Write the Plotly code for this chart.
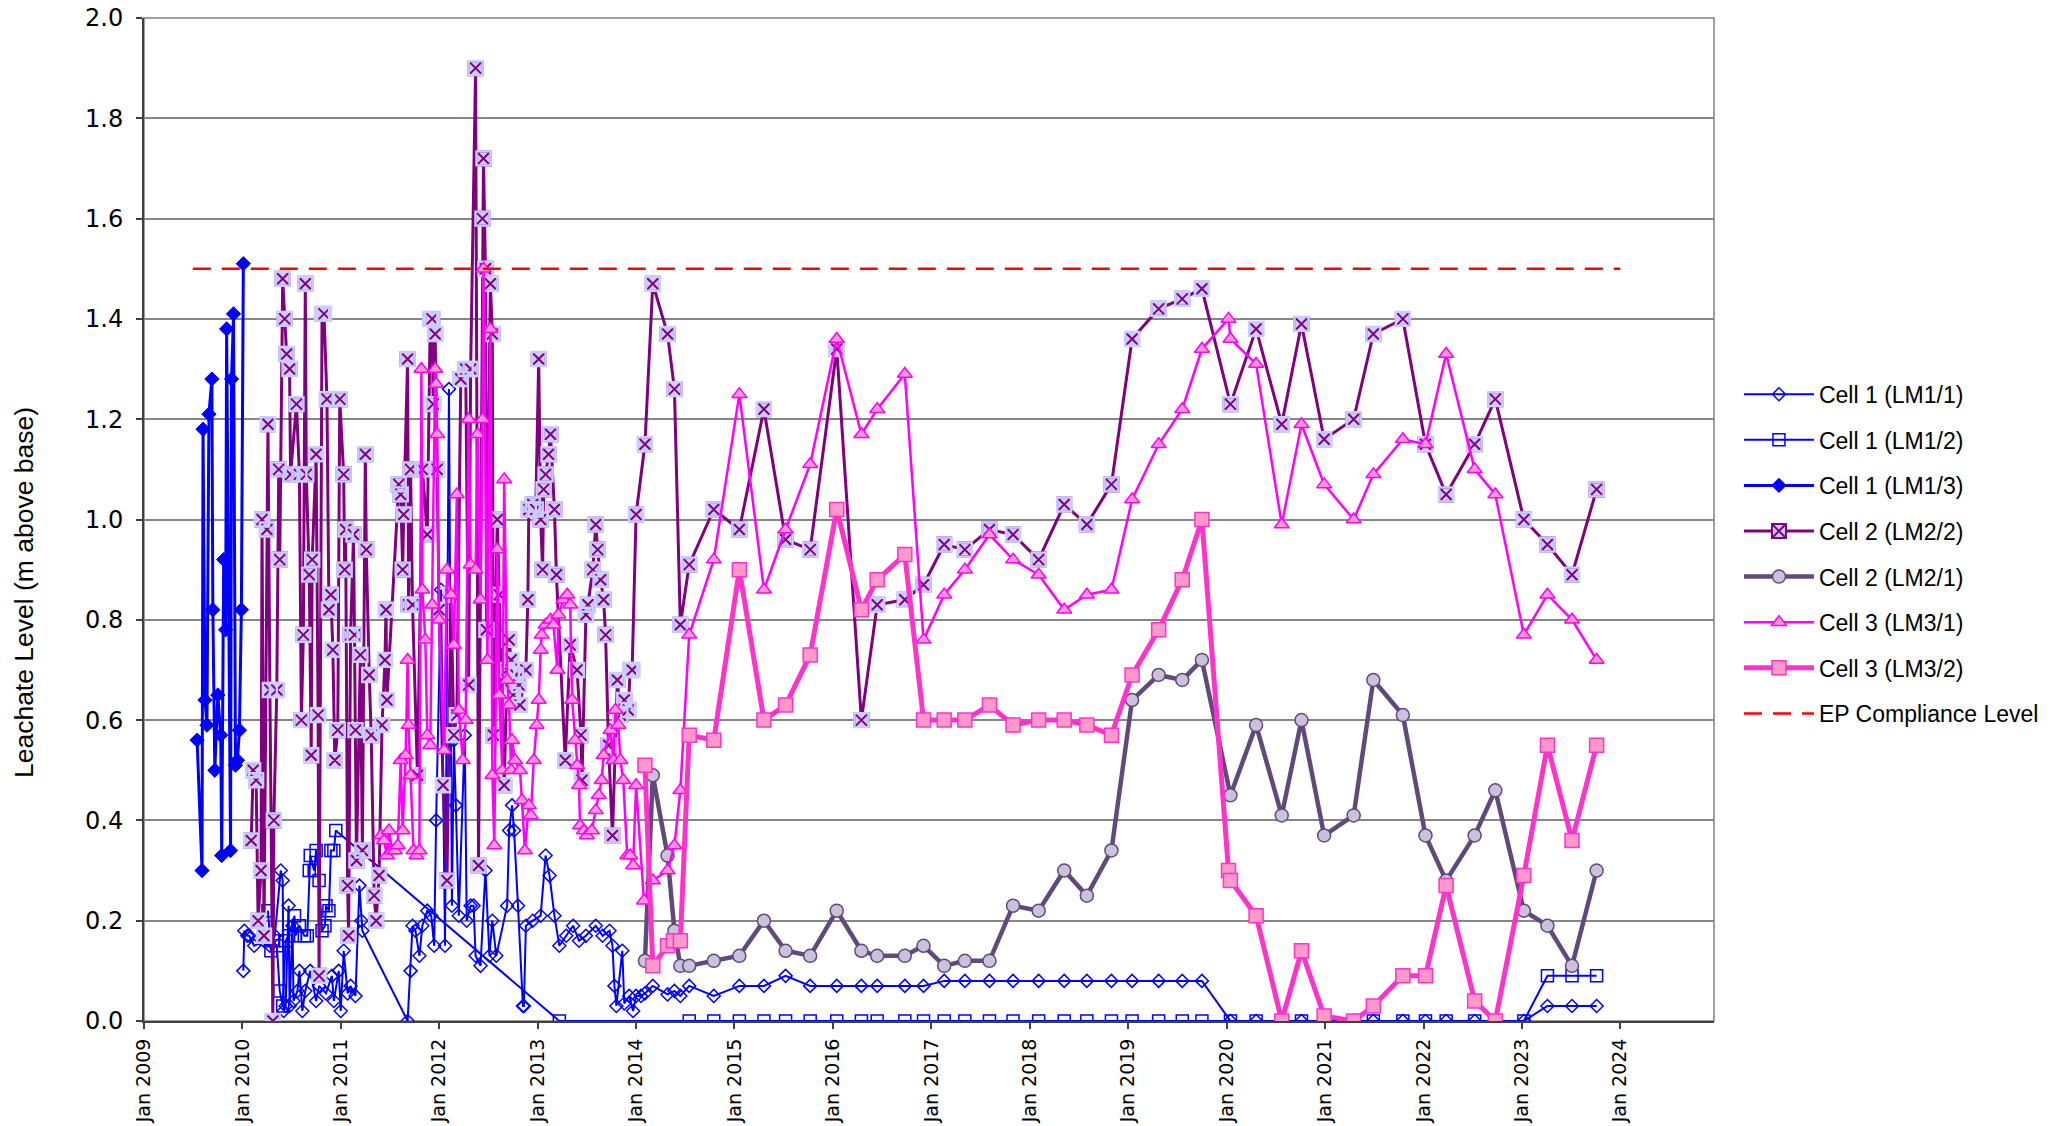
import datetime as dt
import plotly.graph_objects as go

# ---------------- data (decimal years -> dates) ----------------
lm11_t = [2010.01, 2010.02, 2010.05, 2010.07, 2010.12, 2010.22, 2010.28, 2010.33, 2010.39, 2010.41,
          2010.42, 2010.44, 2010.47, 2010.48, 2010.51, 2010.52, 2010.56, 2010.58, 2010.61, 2010.64,
          2010.69, 2010.75, 2010.78, 2010.85, 2010.91, 2010.93, 2010.98, 2011.00, 2011.03, 2011.07,
          2011.10, 2011.15, 2011.19, 2011.21, 2011.22, 2011.68, 2011.71, 2011.73, 2011.76, 2011.80,
          2011.83, 2011.88, 2011.92, 2011.95, 2011.97, 2012.02, 2012.06, 2012.10, 2012.13, 2012.15,
          2012.17, 2012.20, 2012.26, 2012.28, 2012.32, 2012.35, 2012.37, 2012.42, 2012.47, 2012.51,
          2012.54, 2012.58, 2012.69, 2012.71, 2012.74, 2012.76, 2012.80, 2012.85, 2012.86, 2012.88,
          2012.95, 2013.03, 2013.08, 2013.12, 2013.17, 2013.22, 2013.29, 2013.36, 2013.42, 2013.49,
          2013.59, 2013.66, 2013.73, 2013.76, 2013.78, 2013.80, 2013.86, 2013.88, 2013.93, 2013.97,
          2014.00, 2014.05, 2014.09, 2014.17, 2014.32, 2014.39, 2014.45,
          2014.54, 2014.79, 2015.05, 2015.30, 2015.52, 2015.77, 2016.04, 2016.29, 2016.45, 2016.73,
          2016.92, 2017.13, 2017.34, 2017.59, 2017.83, 2018.09, 2018.35, 2018.58, 2018.83, 2019.04,
          2019.31, 2019.55, 2019.75, 2020.04, 2020.30, 2020.56, 2020.76, 2020.99, 2021.29, 2021.49,
          2021.79, 2022.02, 2022.23, 2022.52, 2022.73, 2023.02, 2023.26, 2023.51, 2023.76]
lm11_v = [0.10, 0.18, 0.17, 0.17, 0.15, 0.16, 0.15, 0.17, 0.30, 0.28,
          0.02, 0.03, 0.23, 0.03, 0.19, 0.04, 0.06, 0.10, 0.02, 0.06,
          0.10, 0.04, 0.07, 0.055, 0.09, 0.04, 0.10, 0.02, 0.14, 0.055,
          0.07, 0.05, 0.27, 0.20, 0.18, 0.00, 0.10, 0.19, 0.18, 0.13,
          0.19, 0.22, 0.21, 0.15, 0.40, 0.86, 0.15, 1.26, 0.23, 0.56,
          0.43, 0.21, 0.57, 0.20, 0.23, 0.23, 0.13, 0.11, 0.30, 0.13,
          0.20, 0.13, 0.23, 0.38, 0.43, 0.38, 0.23, 0.03, 0.03, 0.19,
          0.20, 0.21, 0.33, 0.29, 0.21, 0.15, 0.17, 0.19, 0.16, 0.17,
          0.19, 0.17, 0.18, 0.15, 0.07, 0.03, 0.14, 0.035, 0.05, 0.02,
          0.05, 0.05, 0.055, 0.07, 0.053, 0.06, 0.05,
          0.07, 0.05, 0.07, 0.07, 0.09, 0.07, 0.07, 0.07, 0.07, 0.07,
          0.07, 0.08, 0.08, 0.08, 0.08, 0.08, 0.08, 0.08, 0.08, 0.08,
          0.08, 0.08, 0.08, 0.00, 0.00, 0.00, 0.00, 0.00, 0.00, 0.00,
          0.00, 0.00, 0.00, 0.00, 0.00, 0.00, 0.03, 0.03, 0.03]

lm12_t = [2010.26, 2010.29, 2010.31, 2010.35, 2010.38, 2010.41, 2010.44, 2010.47, 2010.53, 2010.54,
          2010.58, 2010.63, 2010.66, 2010.68, 2010.69, 2010.73, 2010.75, 2010.78, 2010.81, 2010.84,
          2010.85, 2010.88, 2010.90, 2010.93, 2010.95, 2013.22,
          2014.54, 2014.79, 2015.05, 2015.30, 2015.52, 2015.77, 2016.04, 2016.29, 2016.45, 2016.73,
          2016.92, 2017.13, 2017.34, 2017.59, 2017.83, 2018.09, 2018.35, 2018.58, 2018.83, 2019.04,
          2019.31, 2019.55, 2019.75, 2020.04, 2020.30, 2020.56, 2020.76, 2020.99, 2021.29, 2021.49,
          2021.79, 2022.02, 2022.23, 2022.52, 2022.73, 2023.02, 2023.26, 2023.51, 2023.76]
lm12_v = [0.22, 0.14, 0.16, 0.15, 0.06, 0.03, 0.16, 0.17, 0.21, 0.17,
          0.19, 0.17, 0.17, 0.30, 0.33, 0.30, 0.34, 0.28, 0.18, 0.19,
          0.23, 0.22, 0.34, 0.34, 0.38, 0.00,
          0.00, 0.00, 0.00, 0.00, 0.00, 0.00, 0.00, 0.00, 0.00, 0.00,
          0.00, 0.00, 0.00, 0.00, 0.00, 0.00, 0.00, 0.00, 0.00, 0.00,
          0.00, 0.00, 0.00, 0.00, 0.00, 0.00, 0.00, 0.00, 0.00, 0.00,
          0.00, 0.00, 0.00, 0.00, 0.00, 0.00, 0.09, 0.09, 0.09]

lm13_t = [2009.54, 2009.59, 2009.60, 2009.62, 2009.64, 2009.66, 2009.69, 2009.70, 2009.72, 2009.75,
          2009.78, 2009.79, 2009.81, 2009.83, 2009.84, 2009.88, 2009.89, 2009.91, 2009.93, 2009.95,
          2009.97, 2009.99, 2010.01]
lm13_v = [0.56, 0.30, 1.18, 0.64, 0.59, 1.21, 1.28, 0.82, 0.50, 0.65,
          0.57, 0.33, 0.92, 0.78, 1.38, 0.34, 1.28, 1.41, 0.51, 0.52,
          0.58, 0.82, 1.51]

lm22_t = [2010.09, 2010.11, 2010.14, 2010.16, 2010.19, 2010.20, 2010.22, 2010.25, 2010.26, 2010.28,
          2010.31, 2010.32, 2010.35, 2010.37, 2010.38, 2010.41, 2010.43, 2010.45, 2010.48, 2010.49,
          2010.55, 2010.58, 2010.60, 2010.62, 2010.64, 2010.65, 2010.68, 2010.70, 2010.71, 2010.75,
          2010.77, 2010.78, 2010.81, 2010.83, 2010.86, 2010.88, 2010.90, 2010.92, 2010.94, 2010.97,
          2010.99, 2011.03, 2011.04, 2011.05, 2011.07, 2011.08, 2011.10, 2011.13, 2011.14, 2011.15,
          2011.16, 2011.20, 2011.22, 2011.25, 2011.26, 2011.29, 2011.31, 2011.34, 2011.36, 2011.39,
          2011.42, 2011.45, 2011.46, 2011.47, 2011.59, 2011.61, 2011.63, 2011.64, 2011.68, 2011.69,
          2011.71, 2011.73, 2011.78, 2011.83, 2011.88, 2011.91, 2011.93, 2011.94, 2011.96, 2011.98,
          2012.00, 2012.04, 2012.08, 2012.12, 2012.15, 2012.18, 2012.22, 2012.27, 2012.30, 2012.32,
          2012.37, 2012.40, 2012.44, 2012.45, 2012.47, 2012.48, 2012.52, 2012.54, 2012.55, 2012.59,
          2012.61, 2012.66, 2012.69, 2012.71, 2012.73, 2012.75, 2012.78, 2012.81, 2012.82, 2012.88,
          2012.90, 2012.91, 2012.95, 2012.98, 2013.01, 2013.03, 2013.05, 2013.06, 2013.08, 2013.11,
          2013.13, 2013.17, 2013.19, 2013.28, 2013.33, 2013.40, 2013.44, 2013.45, 2013.49, 2013.51,
          2013.56, 2013.59, 2013.61, 2013.64, 2013.67, 2013.69, 2013.72, 2013.76, 2013.81, 2013.84,
          2013.88, 2013.92, 2013.94, 2013.96, 2014.00, 2014.09, 2014.17, 2014.32, 2014.39, 2014.45,
          2014.54, 2014.79, 2015.05, 2015.30, 2015.52, 2015.77, 2016.04, 2016.29, 2016.45, 2016.73,
          2016.92, 2017.13, 2017.34, 2017.59, 2017.83, 2018.09, 2018.35, 2018.58, 2018.83, 2019.04,
          2019.31, 2019.55, 2019.75, 2020.04, 2020.30, 2020.56, 2020.76, 2020.99, 2021.29, 2021.49,
          2021.79, 2022.02, 2022.23, 2022.52, 2022.73, 2023.02, 2023.26, 2023.51, 2023.76]
lm22_v = [0.36, 0.50, 0.48, 0.20, 0.30, 1.00, 0.17, 0.98, 1.19, 0.66,
          0.00, 0.40, 0.66, 1.10, 0.92, 1.48, 1.40, 1.33, 1.30, 1.09,
          1.23, 1.09, 0.60, 0.77, 1.47, 1.09, 0.89, 0.53, 0.92, 1.13,
          0.61, 0.09, 1.41, 1.41, 1.24, 0.82, 0.85, 0.74, 0.52, 0.58,
          1.24, 1.09, 0.90, 0.98, 0.27, 0.17, 0.77, 0.97, 0.77, 0.58,
          0.32, 0.73, 0.34, 1.13, 0.94, 0.69, 0.57, 0.25, 0.20, 0.29,
          0.59, 0.72, 0.82, 0.64, 1.07, 1.05, 0.90, 1.01, 1.32, 0.83,
          1.10, 0.83, 0.49, 1.10, 0.97, 1.40, 1.40, 1.23, 1.37, 1.10,
          0.82, 0.47, 0.28, 0.85, 0.57, 0.61, 1.28, 1.30, 0.67, 1.30,
          1.90, 0.31, 1.60, 1.72, 1.50, 0.78, 1.47, 1.37, 0.57, 1.00,
          0.85, 0.47, 0.70, 0.76, 0.72, 0.65, 0.69, 0.67, 0.63, 0.70,
          0.84, 1.02, 1.03, 1.02, 1.32, 1.00, 0.90, 1.06, 1.09, 1.13,
          1.17, 1.02, 0.89, 0.52, 0.75, 0.70, 0.57, 0.48, 0.81, 0.83,
          0.90, 0.99, 0.94, 0.88, 0.84, 0.77, 0.55, 0.37, 0.68, 0.61,
          0.64, 0.62, 0.70, 0.70, 1.01, 1.15, 1.47, 1.37, 1.26, 0.79,
          0.91, 1.02, 0.98, 1.22, 0.96, 0.94, 1.34, 0.60, 0.83, 0.84,
          0.87, 0.95, 0.94, 0.98, 0.97, 0.92, 1.03, 0.99, 1.07, 1.36,
          1.42, 1.44, 1.46, 1.23, 1.38, 1.19, 1.39, 1.16, 1.20, 1.37,
          1.40, 1.15, 1.05, 1.15, 1.24, 1.00, 0.95, 0.89, 1.06]

lm21_t = [2014.09, 2014.17, 2014.32, 2014.39, 2014.45, 2014.54, 2014.79, 2015.05, 2015.30, 2015.52,
          2015.77, 2016.04, 2016.29, 2016.45, 2016.73, 2016.92, 2017.13, 2017.34, 2017.59, 2017.83,
          2018.09, 2018.35, 2018.58, 2018.83, 2019.04, 2019.31, 2019.55, 2019.75, 2020.04, 2020.30,
          2020.56, 2020.76, 2020.99, 2021.29, 2021.49, 2021.79, 2022.02, 2022.23, 2022.52, 2022.73,
          2023.02, 2023.26, 2023.51, 2023.76]
lm21_v = [0.12, 0.49, 0.33, 0.18, 0.11, 0.11, 0.12, 0.13, 0.20, 0.14,
          0.13, 0.22, 0.14, 0.13, 0.13, 0.15, 0.11, 0.12, 0.12, 0.23,
          0.22, 0.30, 0.25, 0.34, 0.64, 0.69, 0.68, 0.72, 0.45, 0.59,
          0.41, 0.60, 0.37, 0.41, 0.68, 0.61, 0.37, 0.28, 0.37, 0.46,
          0.22, 0.19, 0.11, 0.30]

lm31_t = [2011.41, 2011.44, 2011.47, 2011.49, 2011.52, 2011.55, 2011.58, 2011.61, 2011.63, 2011.66,
          2011.68, 2011.69, 2011.71, 2011.74, 2011.77, 2011.80, 2011.82, 2011.83, 2011.86, 2011.88,
          2011.91, 2011.93, 2011.96, 2011.97, 2011.98, 2012.00, 2012.05, 2012.08, 2012.12, 2012.15,
          2012.18, 2012.20, 2012.24, 2012.27, 2012.30, 2012.32, 2012.37, 2012.39, 2012.42, 2012.44,
          2012.45, 2012.49, 2012.52, 2012.54, 2012.56, 2012.59, 2012.61, 2012.64, 2012.66, 2012.69,
          2012.71, 2012.73, 2012.74, 2012.77, 2012.82, 2012.84, 2012.87, 2012.91, 2012.93, 2012.96,
          2012.99, 2013.01, 2013.03, 2013.04, 2013.08, 2013.13, 2013.16, 2013.20, 2013.21, 2013.26,
          2013.30, 2013.33, 2013.35, 2013.38, 2013.40, 2013.42, 2013.43, 2013.47, 2013.50, 2013.55,
          2013.59, 2013.62, 2013.65, 2013.67, 2013.74, 2013.77, 2013.79, 2013.82, 2013.84, 2013.87,
          2013.91, 2013.94, 2013.97, 2014.00, 2014.08, 2014.17, 2014.32, 2014.39, 2014.45,
          2014.54, 2014.79, 2015.05, 2015.30, 2015.52, 2015.77, 2016.04, 2016.29, 2016.45, 2016.73,
          2016.92, 2017.13, 2017.34, 2017.59, 2017.83, 2018.09, 2018.35, 2018.58, 2018.83, 2019.04,
          2019.31, 2019.55, 2019.75, 2020.02, 2020.04, 2020.30, 2020.56, 2020.76, 2020.99, 2021.29,
          2021.49, 2021.79, 2022.02, 2022.23, 2022.52, 2022.73, 2023.02, 2023.26, 2023.51, 2023.76]
lm31_v = [0.37, 0.36, 0.33, 0.38, 0.34, 0.34, 0.35, 0.52, 0.38, 0.53,
          0.72, 0.59, 0.49, 0.34, 0.33, 0.34, 1.30, 0.86, 0.76, 0.57,
          0.55, 0.83, 1.30, 1.27, 1.17, 0.80, 0.54, 0.90, 0.85, 0.75,
          1.05, 0.62, 0.52, 0.60, 1.20, 0.91, 0.90, 1.17, 0.84, 1.20,
          1.50, 0.72, 1.38, 0.49, 0.35, 0.94, 0.65, 0.50, 1.08, 0.68,
          0.63, 0.50, 0.56, 0.52, 0.50, 0.44, 0.34, 0.43, 0.41, 0.52,
          0.59, 0.64, 0.74, 0.77, 0.79, 0.80, 0.79, 0.70, 0.81, 0.84,
          0.85, 0.83, 0.64, 0.56, 0.51, 0.47, 0.39, 0.38, 0.37, 0.38,
          0.42, 0.45, 0.48, 0.53, 0.58, 0.52, 0.62, 0.59, 0.52, 0.48,
          0.33, 0.33, 0.31, 0.47, 0.24, 0.28, 0.30, 0.35, 0.46,
          0.77, 0.92, 1.25, 0.86, 0.98, 1.11, 1.36, 1.17, 1.22, 1.29,
          0.76, 0.85, 0.90, 0.97, 0.92, 0.89, 0.82, 0.85, 0.86, 1.04,
          1.15, 1.22, 1.34, 1.40, 1.36, 1.31, 0.99, 1.19, 1.07, 1.00,
          1.09, 1.16, 1.15, 1.33, 1.10, 1.05, 0.77, 0.85, 0.80, 0.72]

lm32_t = [2014.09, 2014.17, 2014.32, 2014.38, 2014.45, 2014.54, 2014.79, 2015.05, 2015.30, 2015.52,
          2015.77, 2016.04, 2016.29, 2016.45, 2016.73, 2016.92, 2017.13, 2017.34, 2017.59, 2017.83,
          2018.09, 2018.35, 2018.58, 2018.83, 2019.04, 2019.31, 2019.55, 2019.75, 2020.02, 2020.04,
          2020.30, 2020.56, 2020.76, 2020.99, 2021.29, 2021.49, 2021.79, 2022.02, 2022.23, 2022.52,
          2022.73, 2023.02, 2023.26, 2023.51, 2023.76]
lm32_v = [0.51, 0.11, 0.15, 0.16, 0.16, 0.57, 0.56, 0.90, 0.60, 0.63,
          0.73, 1.02, 0.82, 0.88, 0.93, 0.60, 0.60, 0.60, 0.63, 0.59,
          0.60, 0.60, 0.59, 0.57, 0.69, 0.78, 0.88, 1.00, 0.30, 0.28,
          0.21, 0.00, 0.14, 0.01, 0.00, 0.03, 0.09, 0.09, 0.27, 0.04,
          0.00, 0.29, 0.55, 0.36, 0.55]

ep_t = ["2009-07-01", "2024-01-01"]
ep_v = [1.5, 1.5]

names = ["Cell 1 (LM1/1)", "Cell 1 (LM1/2)", "Cell 1 (LM1/3)", "Cell 2 (LM2/2)",
         "Cell 2 (LM2/1)", "Cell 3 (LM3/1)", "Cell 3 (LM3/2)", "EP Compliance Level"]


def to_dates(years):
    out = []
    for y in years:
        yr = int(y)
        start = dt.datetime(yr, 1, 1)
        days = (dt.datetime(yr + 1, 1, 1) - start).days
        out.append(start + dt.timedelta(days=(y - yr) * days))
    return out


BLUE = "#0000FF"
PURPLE = "#800080"
LAV = "#CCCCFF"
SLATE = "#604A7B"
SLATE_FILL = "#CCC1DA"
MAGENTA = "#FF00FF"
PINK_FILL = "#FF99CC"
HOTPINK = "#FF33CC"

fig = go.Figure()

fig.add_trace(go.Scatter(
    x=to_dates(lm11_t), y=lm11_v, name=names[0], legendgroup="g1", mode="lines+markers",
    line=dict(color=BLUE, width=2),
    marker=dict(symbol="diamond-open", size=10, color=BLUE, line=dict(color=BLUE, width=1.5))))
fig.add_trace(go.Scatter(
    x=to_dates(lm12_t), y=lm12_v, name=names[1], legendgroup="g2", mode="lines+markers",
    line=dict(color=BLUE, width=2),
    marker=dict(symbol="square-open", size=12, color=BLUE, line=dict(color=BLUE, width=1.5))))
fig.add_trace(go.Scatter(
    x=to_dates(lm13_t), y=lm13_v, name=names[2], legendgroup="g3", mode="lines+markers",
    line=dict(color=BLUE, width=3),
    marker=dict(symbol="diamond", size=11, color=BLUE, line=dict(color=BLUE, width=1))))
# Cell 2 (LM2/2): lavender square with purple cross
fig.add_trace(go.Scatter(
    x=to_dates(lm22_t), y=lm22_v, name=names[3], legendgroup="g4", mode="lines+markers",
    line=dict(color=PURPLE, width=3),
    marker=dict(symbol="square-x", size=14, color=LAV, line=dict(color=PURPLE, width=2))))
fig.add_trace(go.Scatter(
    x=to_dates(lm22_t), y=lm22_v, name=names[3], legendgroup="g4", showlegend=False, mode="markers",
    hoverinfo="skip",
    marker=dict(symbol="square-open", size=14, color=LAV, line=dict(color=LAV, width=2.4))))
fig.add_trace(go.Scatter(
    x=to_dates(lm21_t), y=lm21_v, name=names[4], legendgroup="g5", mode="lines+markers",
    line=dict(color=SLATE, width=4.5),
    marker=dict(symbol="circle", size=13, color=SLATE_FILL, line=dict(color=SLATE, width=1.5))))
fig.add_trace(go.Scatter(
    x=to_dates(lm31_t), y=lm31_v, name=names[5], legendgroup="g6", mode="lines+markers",
    line=dict(color=MAGENTA, width=2.5),
    marker=dict(symbol="triangle-up", size=13, color=PINK_FILL, line=dict(color=MAGENTA, width=1.5))))
fig.add_trace(go.Scatter(
    x=to_dates(lm32_t), y=lm32_v, name=names[6], legendgroup="g7", mode="lines+markers",
    line=dict(color=HOTPINK, width=5),
    marker=dict(symbol="square", size=14, color=PINK_FILL, line=dict(color=HOTPINK, width=1.5))))
fig.add_trace(go.Scatter(
    x=ep_t, y=ep_v, name=names[7], legendgroup="g8", mode="lines",
    line=dict(color="#FF0000", width=2.5, dash="18px,11px")))

FONT = "Liberation Sans, Arial, sans-serif"
TICKFONT = "DejaVu Sans, Verdana, sans-serif"

fig.update_layout(
    width=2071, height=1126,
    margin=dict(l=144, r=357, t=18, b=105, autoexpand=False),
    paper_bgcolor="white", plot_bgcolor="white",
    font=dict(family=FONT, color="black"),
    showlegend=True,
    legend=dict(x=1.0159, xanchor="left", y=0.6463, yanchor="top",
                font=dict(family=FONT, size=23, color="black"),
                traceorder="grouped", tracegroupgap=12.7, itemwidth=70,
                bgcolor="rgba(0,0,0,0)"),
    xaxis=dict(type="date", range=["2009-01-01", "2024-12-14"],
               tick0="2009-01-01", dtick="M12", tickformat="%b %Y",
               tickangle=-90, tickfont=dict(family=TICKFONT, size=19, color="black"),
               ticks="outside", ticklen=6, tickwidth=1.5, tickcolor="#404040",
               ticklabelstandoff=2,
               showline=True, linecolor="#404040", linewidth=2,
               showgrid=False, zeroline=False),
    yaxis=dict(range=[0, 2], tick0=0, dtick=0.2, tickformat=".1f",
               tickfont=dict(family=TICKFONT, size=24, color="black"),
               ticks="outside", ticklen=6, tickwidth=1.5, tickcolor="#404040",
               ticklabelstandoff=8,
               showline=True, linecolor="#404040", linewidth=2,
               showgrid=True, gridcolor="#868686", gridwidth=1.5, zeroline=False),
    shapes=[dict(type="rect", xref="paper", yref="paper", x0=0, x1=1, y0=0, y1=1,
                 line=dict(color="#808080", width=1.5), layer="below")],
    annotations=[dict(text="Leachate Level (m above base)", xref="paper", yref="paper",
                      x=-0.0764, y=0.4267, xanchor="center", yanchor="middle",
                      textangle=-90, showarrow=False,
                      font=dict(family=FONT, size=26.5, color="black"))],
)

fig.write_html("out.html", config={"displayModeBar": False},
               post_script="document.body.style.margin='0px';")
